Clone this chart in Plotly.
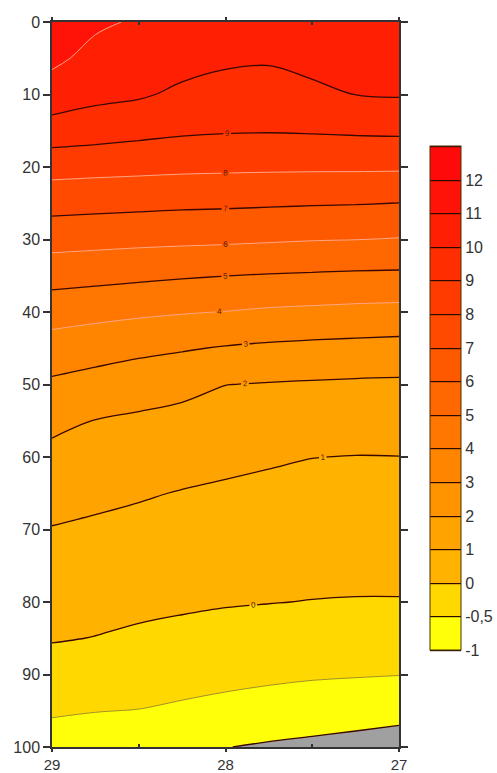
import numpy as np
import plotly.graph_objects as go

# ---------------- data ----------------
distance = [29, 28.75, 28.5, 28.25, 28, 27.75, 27.5, 27.25, 27]
depth = [0, 5, 10, 15, 20, 25, 30, 35, 40, 45, 50, 55, 60, 65, 70, 75, 80, 85, 90, 95, 100]

# vertical profiles (value vs depth) at each station
t_29_00 = [11.6, 11.2, 10.56, 9.56, 8.36, 7.35, 6.36, 5.38, 4.41, 3.56, 2.84, 2.23, 1.75, 1.35, 0.96, 0.66, 0.36, 0.06, -0.20, -0.45, -0.71]
t_28_75 = [11.15, 10.72, 10.25, 9.43, 8.30, 7.29, 6.30, 5.29, 4.28, 3.39, 2.64, 1.98, 1.59, 1.20, 0.86, 0.57, 0.27, -0.01, -0.25, -0.49, -0.72]
t_28_50 = [10.9, 10.51, 10.11, 9.28, 8.25, 7.24, 6.24, 5.19, 4.16, 3.22, 2.44, 1.85, 1.46, 1.08, 0.77, 0.49, 0.20, -0.07, -0.29, -0.51, -0.81]
t_28_25 = [10.8, 10.34, 9.82, 9.14, 8.20, 7.18, 6.20, 5.09, 4.06, 3.08, 2.26, 1.73, 1.34, 0.96, 0.68, 0.41, 0.13, -0.12, -0.33, -0.57, -0.90]
t_28_00 = [10.7, 10.17, 9.62, 9.07, 8.17, 7.15, 6.16, 5.01, 3.98, 2.93, 2.01, 1.60, 1.21, 0.87, 0.60, 0.33, 0.06, -0.16, -0.37, -0.64, -0.99]
t_27_75 = [10.7, 10.11, 9.57, 9.05, 8.15, 7.11, 6.10, 4.94, 3.87, 2.83, 1.95, 1.53, 1.10, 0.80, 0.54, 0.28, 0.02, -0.20, -0.41, -0.71, -1.05]
t_27_50 = [10.8, 10.32, 9.77, 9.08, 8.14, 7.07, 6.04, 4.89, 3.81, 2.76, 1.90, 1.46, 1.01, 0.75, 0.50, 0.25, -0.01, -0.23, -0.45, -0.76, -1.10]
t_27_25 = [10.8, 10.40, 10.01, 9.13, 8.14, 7.04, 6.01, 4.84, 3.75, 2.71, 1.86, 1.41, 0.98, 0.73, 0.48, 0.23, -0.02, -0.25, -0.47, -0.81, -1.15]
t_27_00 = [10.8, 10.43, 10.07, 9.16, 8.13, 6.99, 5.95, 4.82, 3.71, 2.66, 1.84, 1.42, 0.99, 0.74, 0.48, 0.23, -0.02, -0.25, -0.49, -0.85, -1.22]

# colour levels (non-uniform) and their labels
level_values = [-1, -0.5, 0, 1, 2, 3, 4, 5, 6, 7, 8, 9, 10, 11, 12, 13]
level_labels = ["-1", "-0,5", "0", "1", "2", "3", "4", "5", "6", "7", "8", "9", "10", "11", "12"]

box_colors = ['#FFFF0A', '#FFD800', '#FFB200', '#FFA300', '#FF9400', '#FF8500',
              '#FF7600', '#FF6700', '#FF5900', '#FF4A00', '#FF3B00', '#FF2D00',
              '#FF1F02', '#FF1208', '#FF0A0A']
below_color = '#A0A0A0'

labelled_dark = [0, 1, 2, 3, 5, 7, 9]
labelled_light = [4, 6, 8]
plain_dark = [10, -1]
plain_light = [11]
thin_gray = [-0.5]

# ---------------- build ----------------
profiles = [t_29_00, t_28_75, t_28_50, t_28_25, t_28_00, t_27_75, t_27_50, t_27_25, t_27_00]
z = np.array(profiles, dtype=float).T

# map values onto an evenly spaced "level index" scale so each level band is equal in size
lv = np.array(level_values, dtype=float)
idx = np.arange(len(lv)) - 2.0  # -1 -> -2, -0.5 -> -1, 0 -> 0, 1 -> 1 ...


def to_idx(v):
    v = np.asarray(v, dtype=float)
    out = np.interp(v, lv, idx)
    low = v < lv[0]
    out[low] = idx[0] + (v[low] - lv[0]) * (idx[1] - idx[0]) / (lv[1] - lv[0])
    return out


w = to_idx(z)
zmin, zmax = idx[0], idx[-1]
nb = len(box_colors)
colorscale = [[0.0, below_color]]
for b, c in enumerate(box_colors):
    colorscale.append([(b + 0.5) / nb, c])
colorscale.append([1.0, box_colors[-1]])

font_family = "Liberation Sans, Arial, sans-serif"
dark = '#3A0800'
light = '#FFA585'

fig = go.Figure()

# filled contour with black level lines -> provides the colour bar (covered by the fill above)
fig.add_trace(go.Contour(
    x=distance, y=depth, z=w, autocontour=False, zmin=zmin, zmax=zmax,
    contours=dict(start=zmin, end=zmax, size=1, coloring='fill', showlines=True),
    colorscale=colorscale, line=dict(color='#2a0a00', width=1.2),
    hoverinfo='skip',
    colorbar=dict(
        tickvals=list(idx[:-1]), ticktext=level_labels,
        lenmode='pixels', len=504, thicknessmode='pixels', thickness=31,
        x=1.089, xanchor='left', xpad=0, y=(746.7 - 146) / 725, yanchor='top', ypad=0,
        outlinecolor='#4a3000', outlinewidth=1, borderwidth=0,
        ticks='', ticklen=0,
        tickfont=dict(size=16, color='#333', family=font_family),
    ),
))

# main fill without lines
fig.add_trace(go.Contour(
    x=distance, y=depth, z=w, autocontour=False, zmin=zmin, zmax=zmax,
    contours=dict(start=zmin, end=zmax, size=1, coloring='fill', showlines=False),
    colorscale=colorscale, line=dict(width=0), showscale=False, hoverinfo='skip',
))


def add_line(value, color, width, labels):
    lvl = float(to_idx([value])[0])
    fig.add_trace(go.Contour(
        x=distance, y=depth, z=w, autocontour=False,
        contours=dict(start=lvl, end=lvl, size=1, coloring='none', showlabels=labels,
                      labelfont=dict(size=8, color='#5a1a00', family=font_family)),
        line=dict(color=color, width=width), showscale=False, hoverinfo='skip',
    ))


for v in plain_dark:
    add_line(v, dark, 1.3, False)
for v in plain_light:
    add_line(v, light, 1.0, False)
for v in thin_gray:
    add_line(v, '#8a7a30', 0.8, False)
for v in labelled_light:
    add_line(v, light, 1.0, True)
for v in labelled_dark:
    add_line(v, dark, 1.3, True)

axis_common = dict(showgrid=False, zeroline=False, showline=True, linecolor='#333',
                   linewidth=1.5, ticks='outside', tickwidth=1.5, tickcolor='#333',
                   mirror='ticks')

fig.update_layout(
    width=497, height=773,
    margin=dict(l=52, r=98, t=22, b=26, autoexpand=False),
    paper_bgcolor='white', plot_bgcolor='white',
    xaxis=dict(range=[29, 27], tickvals=[29, 28, 27], ticktext=['29', '28', '27'], ticklen=3,
               tickfont=dict(size=15, color='#333', family=font_family),
               minor=dict(tickvals=[28.5, 27.5], ticks='inside', ticklen=3, tickcolor='#333'),
               **axis_common),
    yaxis=dict(range=[100, 0], tickvals=list(range(0, 101, 10)), ticklen=7,
               tickfont=dict(size=16, color='#333', family=font_family), **axis_common),
    showlegend=False,
)

fig.write_html("out.html", config={'displayModeBar': False},
               post_script="document.body.style.margin='0';document.body.style.overflow='hidden';")
